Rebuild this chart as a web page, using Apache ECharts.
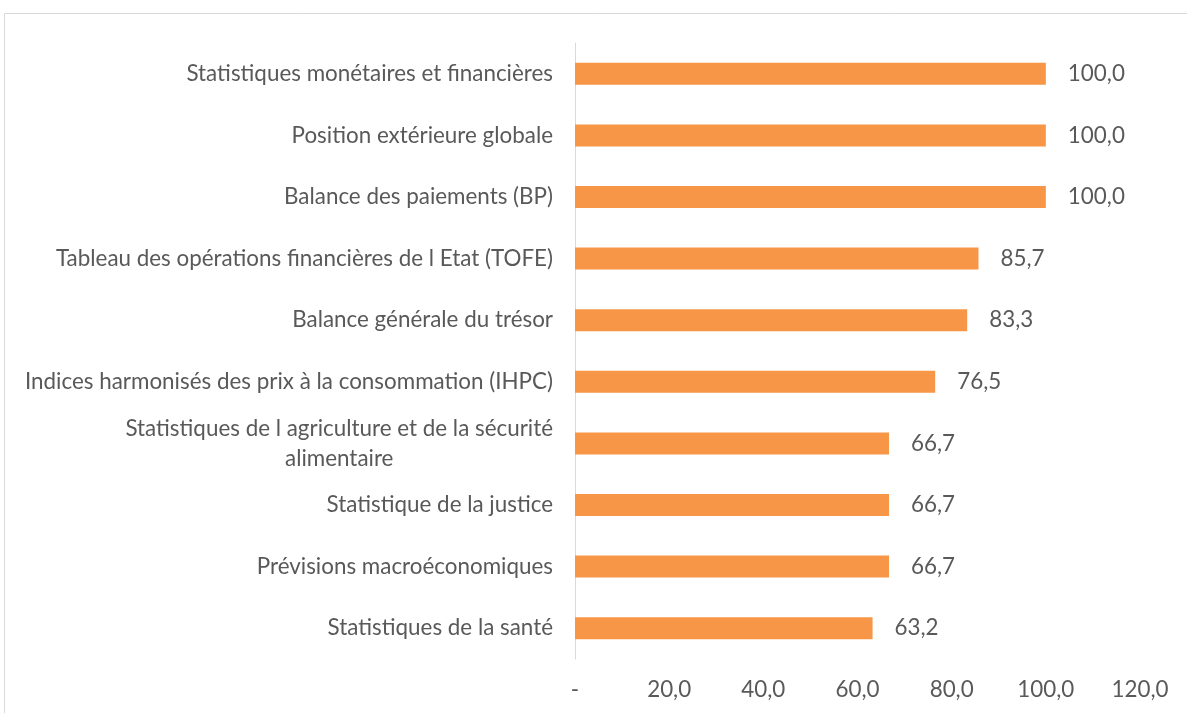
<!DOCTYPE html>
<html>
<head>
<meta charset="utf-8">
<script src="https://cdn.jsdelivr.net/npm/echarts@6/dist/echarts.min.js"></script>
<style>
  html, body { margin: 0; padding: 0; background: #fff; }
  #main { width: 1187px; height: 713px; }
</style>
</head>
<body>
<div id="main"></div>
<script>
// categories, top to bottom
var categories = [
  'Statistiques monétaires et financières',
  'Position extérieure globale',
  'Balance des paiements (BP)',
  'Tableau des opérations financières de l Etat (TOFE)',
  'Balance générale du trésor',
  'Indices harmonisés des prix à la consommation (IHPC)',
  'Statistiques de l agriculture et de la sécurité\nalimentaire',
  'Statistique de la justice',
  'Prévisions macroéconomiques',
  'Statistiques de la santé'
];
var values = [100.0, 100.0, 100.0, 85.7, 83.3, 76.5, 66.7, 66.7, 66.7, 63.2];
var xTicks = [0, 20, 40, 60, 80, 100, 120];

var fmt = function (v) {
  if (v === 0) return '-';
  return v.toFixed(1).replace('.', ',');
};

var FONT = 'Lato';
var FS = 22.4;
var TXT = '#595959';

var myChart = echarts.init(document.getElementById('main'));

var option = {
  animation: false,
  textStyle: { fontFamily: FONT },
  graphic: [{
    type: 'rect',
    shape: { x: 4.5, y: 13.5, width: 1300, height: 800 },
    style: { fill: 'none', stroke: '#d9d9d9', lineWidth: 1 },
    silent: true
  }],
  grid: { left: 575, right: 47, top: 43, bottom: 54, containLabel: false },
  xAxis: {
    type: 'value',
    min: xTicks[0],
    max: xTicks[xTicks.length - 1],
    interval: 20,
    axisLine: { show: false },
    axisTick: { show: false },
    splitLine: { show: false },
    axisLabel: {
      margin: 20,
      color: TXT,
      fontFamily: FONT,
      fontSize: FS,
      formatter: fmt
    }
  },
  yAxis: {
    type: 'category',
    inverse: true,
    data: categories,
    axisLine: { show: true, lineStyle: { color: '#d9d9d9', width: 1 } },
    axisTick: { show: false },
    axisLabel: {
      margin: 22,
      color: TXT,
      fontFamily: FONT,
      fontSize: FS,
      lineHeight: 30,
      formatter: function (v) {
        return v.split('\n').map(function (s) { return '{c|' + s + '}'; }).join('\n');
      },
      rich: {
        c: { align: 'center', color: TXT, fontFamily: FONT, fontSize: FS, lineHeight: 30 }
      }
    }
  },
  series: [{
    type: 'bar',
    data: values,
    barWidth: 22,
    itemStyle: { color: '#F79646' },
    label: {
      show: true,
      position: 'right',
      distance: 22,
      color: TXT,
      fontFamily: FONT,
      fontSize: FS,
      formatter: function (p) { return fmt(p.value); }
    }
  }]
};

myChart.setOption(option);
</script>
</body>
</html>
